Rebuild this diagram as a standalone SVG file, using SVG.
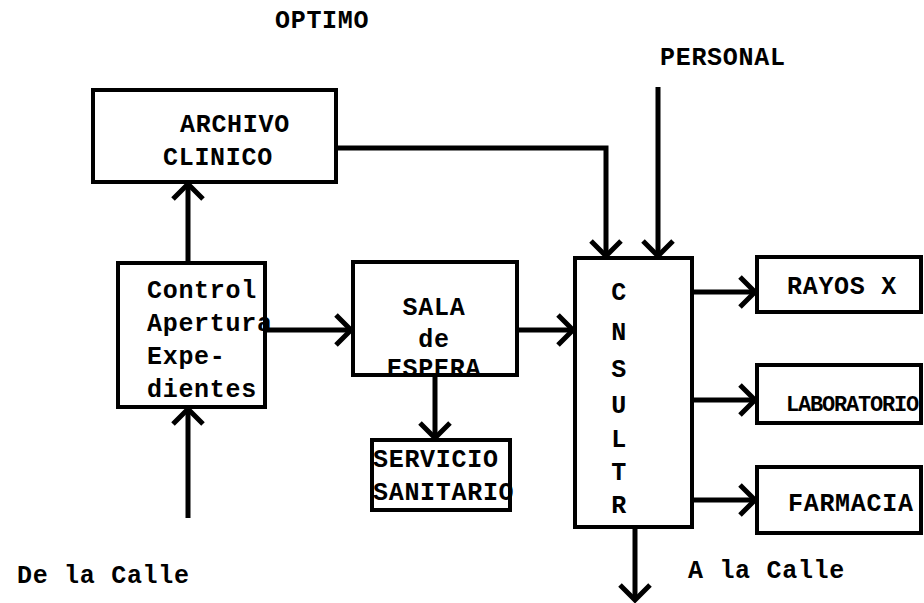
<svg xmlns="http://www.w3.org/2000/svg" width="924" height="603" viewBox="0 0 924 603">
<style>
  .box { fill: #fff; stroke: #000; stroke-width: 4; }
  .t { font-family: "Liberation Mono", "DejaVu Sans Mono", monospace; font-weight: bold; font-size: 25px; letter-spacing: 0.7px; fill: #000; }
  .c { text-anchor: middle; }
  .ln { fill: none; stroke: #000; stroke-width: 5; stroke-linejoin: miter; }
</style>
<defs>
  <marker id="arr" markerUnits="userSpaceOnUse" viewBox="-20 -20 24 40" refX="0" refY="0" markerWidth="24" markerHeight="40" orient="auto" overflow="visible">
    <path d="M-15,-15 L0,0 L-15,15" fill="none" stroke="#000" stroke-width="5"/>
  </marker>
</defs>
<rect width="924" height="603" fill="#fff"/>

<text class="t" x="275" y="28">OPTIMO</text>
<text class="t" x="660" y="65">PERSONAL</text>
<text class="t" x="17" y="583">De la Calle</text>
<text class="t" x="688" y="578">A la Calle</text>

<g id="connectors">
  <path class="ln" d="M188,263 V184" marker-end="url(#arr)"/>
  <path class="ln" d="M188,518 V409" marker-end="url(#arr)"/>
  <path class="ln" d="M265,330 H351" marker-end="url(#arr)"/>
  <path class="ln" d="M435,375 V438" marker-end="url(#arr)"/>
  <path class="ln" d="M517,330 H573" marker-end="url(#arr)"/>
  <path class="ln" d="M336,148 H606 V256" marker-end="url(#arr)"/>
  <path class="ln" d="M658,87 V256" marker-end="url(#arr)"/>
  <path class="ln" d="M692,292 H755" marker-end="url(#arr)"/>
  <path class="ln" d="M692,400 H755" marker-end="url(#arr)"/>
  <path class="ln" d="M692,500 H755" marker-end="url(#arr)"/>
  <path class="ln" d="M635,527 V600" marker-end="url(#arr)"/>
</g>

<g id="archivo">
  <rect class="box" x="93" y="90" width="243" height="92"/>
  <text class="t" x="180" y="132">ARCHIVO</text>
  <text class="t" x="163" y="165">CLINICO</text>
</g>

<g id="control">
  <rect class="box" x="118" y="263" width="147" height="144"/>
  <text class="t" x="147" y="298">Control</text>
  <text class="t" x="147" y="331">Apertura</text>
  <text class="t" x="147" y="364">Expe-</text>
  <text class="t" x="147" y="397">dientes</text>
</g>

<g id="sala">
  <rect class="box" x="353" y="262" width="164" height="113"/>
  <text class="t c" x="434" y="315">SALA</text>
  <text class="t c" x="434" y="347">de</text>
  <text class="t c" x="434" y="376">ESPERA</text>
</g>

<g id="servicio">
  <rect class="box" x="372" y="440" width="138" height="70"/>
  <text class="t" x="373" y="467">SERVICIO</text>
  <text class="t" x="373" y="500">SANITARIO</text>
</g>

<g id="consultr">
  <rect class="box" x="575" y="258" width="117" height="269"/>
  <text class="t c" x="619" y="300">C</text>
  <text class="t c" x="619" y="340">N</text>
  <text class="t c" x="619" y="377">S</text>
  <text class="t c" x="619" y="413">U</text>
  <text class="t c" x="619" y="447">L</text>
  <text class="t c" x="619" y="480">T</text>
  <text class="t c" x="619" y="513">R</text>
</g>

<g id="rayos">
  <rect class="box" x="757" y="257" width="164" height="55"/>
  <text class="t" x="787" y="294">RAYOS X</text>
</g>

<g id="laboratorio">
  <rect class="box" x="757" y="365" width="164" height="58"/>
  <text class="t" x="786" y="411" style="font-size:22px;letter-spacing:-1.2px">LABORATORIO</text>
</g>

<g id="farmacia">
  <rect class="box" x="757" y="467" width="164" height="66"/>
  <text class="t" x="788" y="511">FARMACIA</text>
</g>
</svg>
